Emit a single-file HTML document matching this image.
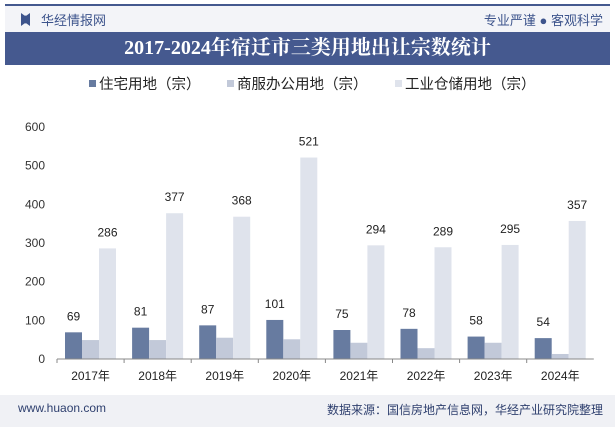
<!DOCTYPE html>
<html><head><meta charset="utf-8"><style>
body{margin:0;width:615px;height:427px;overflow:hidden;background:#fff;font-family:"Liberation Sans","Noto Sans CJK SC",sans-serif;position:relative}
.abs{position:absolute}
</style></head><body>
<div class="abs" style="left:5px;top:4px;width:605px;height:2px;background:#44598f"></div>
<div class="abs" style="left:5px;top:6px;width:605px;height:26px;background:#f3f4f8"></div>
<div class="abs" style="left:21px;top:13px;width:9px;height:13px;background:#3d548c;clip-path:polygon(0 0,40% 20%,60% 20%,100% 0,100% 100%,60% 80%,40% 80%,0 100%)"></div>
<div class="abs" style="left:41px;top:10px;font-size:13px;color:#3d548c">华经情报网</div>
<div class="abs" style="right:12px;top:10px;font-size:13px;color:#3d548c">专业严谨 ● 客观科学</div>
<div class="abs" style="left:5px;top:32px;width:605px;height:33px;background:#45598f;color:#fff;font-family:'Liberation Serif','Noto Serif CJK SC',serif;font-weight:bold;font-size:20px;text-align:center;line-height:33px">2017-2024年宿迁市三类用地出让宗数统计</div>
<div class="abs" style="left:0;top:395px;width:615px;height:32px;background:#f0f1f5"></div>
<div class="abs" style="left:18px;top:401px;font-size:12px;color:#2e3f6e">www.huaon.com</div>
<div class="abs" style="right:12px;top:401px;font-size:12px;color:#2e3f6e">数据来源：国信房地产信息网，华经产业研究院整理</div>
<svg class="abs" style="left:0;top:0" width="615" height="427" id="chart"></svg>
<script>
const categories=["2017年","2018年","2019年","2020年","2021年","2022年","2023年","2024年"];
const residential=[69,81,87,101,75,78,58,54];
const commercial=[49,49,55,51,42,28,42,13];
const industrial=[286,377,368,521,294,289,295,357];
const yTicks=[0,100,200,300,400,500,600];
const seriesNames=["住宅用地（宗）","商服办公用地（宗）","工业仓储用地（宗）"];
const colors=["#677ba0","#c2c9d9","#dfe3ec"];
const svg=document.getElementById('chart');const NS="http://www.w3.org/2000/svg";
const x0=57,band=67.1,y0=359,yTop=127,bw=17;
const y=v=>y0-(v/600)*(y0-yTop);
function el(t,a,txt){const e=document.createElementNS(NS,t);for(const k in a)e.setAttribute(k,a[k]);if(txt!=null)e.textContent=txt;svg.appendChild(e);return e;}
yTicks.forEach(t=>{const e=el('text',{x:45,y:y(t)+4,'text-anchor':'end','font-size':12,fill:'#333'},t);

});
const series=[residential,commercial,industrial];
categories.forEach((c,i)=>{
 const bx=x0+i*band+8;
 series.forEach((s,j)=>{const r=el('rect',{x:bx+j*bw,y:y(s[i]),width:bw,height:y0-y(s[i]),fill:colors[j]});
 
 });
 [0,2].forEach(j=>{const t=el('text',{x:bx+j*bw+bw/2,y:y(series[j][i])-12,'text-anchor':'middle','font-size':12,fill:'#222'},series[j][i]);
 
 });
 const l=el('text',{x:x0+i*band+band/2,y:380,'text-anchor':'middle','font-size':12,fill:'#222'},c);
 
 
 const tk=el('line',{x1:x0+i*band,x2:x0+i*band,y1:y0,y2:y0+4,stroke:'#888'});
 
 
});
const ax=el('line',{x1:x0,x2:x0+8*band,y1:y0,y2:y0,stroke:'#888'});


const lx=[89,227,395];
seriesNames.forEach((n,j)=>{
 const r=el('rect',{x:lx[j],y:80,width:7,height:7,fill:colors[j]});
 
 
 const t=el('text',{x:lx[j]+10,y:89,'font-size':14.5,fill:'#222'},n);
 
 
});
</script>
</body></html>
